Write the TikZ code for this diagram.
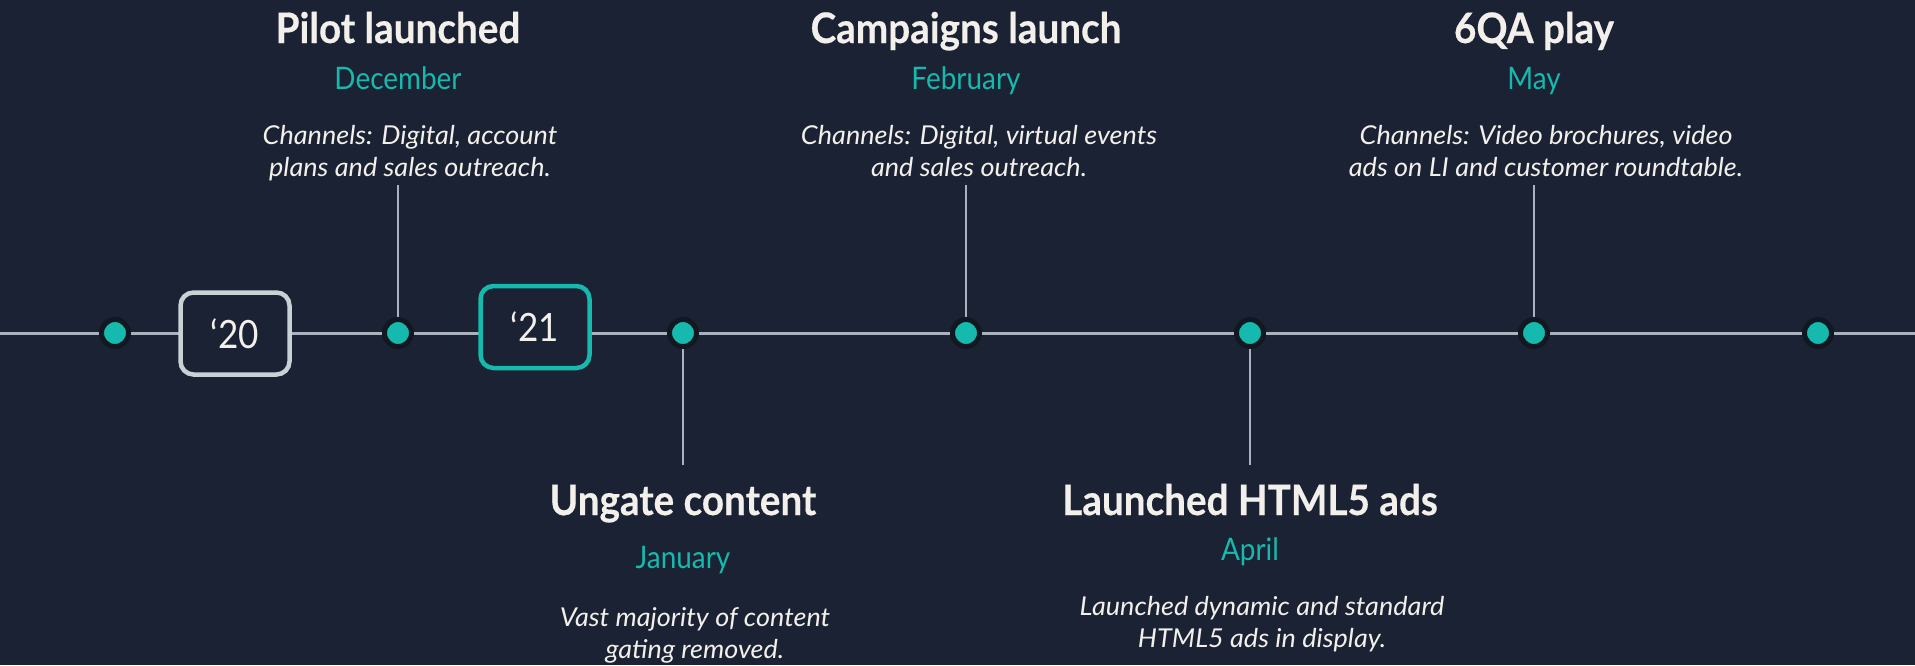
\documentclass[tikz,border=0pt]{standalone}
\usepackage{fontspec}
\setmainfont{Lato}
\newfontfamily\headfont[FakeStretch=0.92, BoldFeatures = {FakeBold = 0.4}]{Lato}
\newfontfamily\monthfont[FakeStretch=0.9]{Lato}
\newfontfamily\descfont[FakeStretch=1.04]{Lato}
\definecolor{bg}{HTML}{1A2233}
\definecolor{teal}{HTML}{16B9AD}
\definecolor{ink}{HTML}{F3F0EC}
\definecolor{rule}{HTML}{AAB2BF}
\definecolor{ring}{HTML}{121822}
\definecolor{pale}{HTML}{C9D1D6}
\tikzset{
    dot/.style = {circle, fill = teal, draw = ring, line width = 5pt, minimum size = 27pt, inner sep = 0pt},
    yearbox/.style = {rounded corners = 13pt, fill = bg, line width = 4.5pt, minimum width = 109pt, minimum height = 82pt,
        text = ink, font = \monthfont\fontsize{39}{40}\selectfont},
    title/.style = {anchor = base, text = ink, font = \headfont\bfseries\fontsize{42}{44}\selectfont},
    month/.style = {anchor = base, text = teal, font = \monthfont\fontsize{31}{32}\selectfont},
    desc/.style = {anchor = base, align = center, text = ink, font = \descfont\itshape\fontsize{26}{32}\selectfont},
    link/.style = {draw = rule, line width = 2.5pt},
}
\begin{document}
\begin{tikzpicture}[x = 1pt, y = -1pt]
    \fill [bg] (0, 0) rectangle (1915, 665);
    \useasboundingbox (0, 0) rectangle (1915, 665);

    % the time axis
    \coordinate (left) at (0, 333);
    \coordinate (right) at (1915, 333);
    \draw [rule, line width = 3pt] (left) -- (right);

    \node [yearbox, draw = pale] (y20) at (235, 333.5) {‘20};
    \node [yearbox, draw = teal] (y21) at (535, 327) {‘21};

    \foreach \x [count = \i] in {115, 398, 683, 966, 1250, 1534, 1818}
        \node [dot] (d\i) at (\x, 333) {};

    % above the axis
    \node [title] (t2) at (398, 43) {Pilot launched};
    \node [month] (m2) at (398, 89) {December};
    \node [desc] (c2) at (410, 176) {Channels: Digital, account\\plans and sales outreach.};
    \coordinate (e2) at (398, 185);
    \draw [link] (e2) -- (d2);

    \node [title] (t4) at (966, 43) {Campaigns launch};
    \node [month] (m4) at (966, 89) {February};
    \node [desc] (c4) at (979, 176) {Channels: Digital, virtual events\\and sales outreach.};
    \coordinate (e4) at (966, 185);
    \draw [link] (e4) -- (d4);

    \node [title] (t6) at (1534, 43) {6QA play};
    \node [month] (m6) at (1534, 89) {May};
    \node [desc] (c6) at (1546, 176) {Channels: Video brochures, video\\ads on LI and customer roundtable.};
    \coordinate (e6) at (1534, 185);
    \draw [link] (e6) -- (d6);

    % below the axis
    \coordinate (e3) at (683, 465);
    \draw [link] (d3) -- (e3);
    \node [title] (t3) at (683, 515) {Ungate content};
    \node [month] (m3) at (683, 568) {January};
    \node [desc] (c3) at (695, 658) {Vast majority of content\\gating removed.};

    \coordinate (e5) at (1250, 465);
    \draw [link] (d5) -- (e5);
    \node [title] (t5) at (1250, 515) {Launched HTML5 ads};
    \node [month] (m5) at (1250, 560) {April};
    \node [desc] (c5) at (1262, 647) {Launched dynamic and standard\\HTML5 ads in display.};
\end{tikzpicture}
\end{document}
